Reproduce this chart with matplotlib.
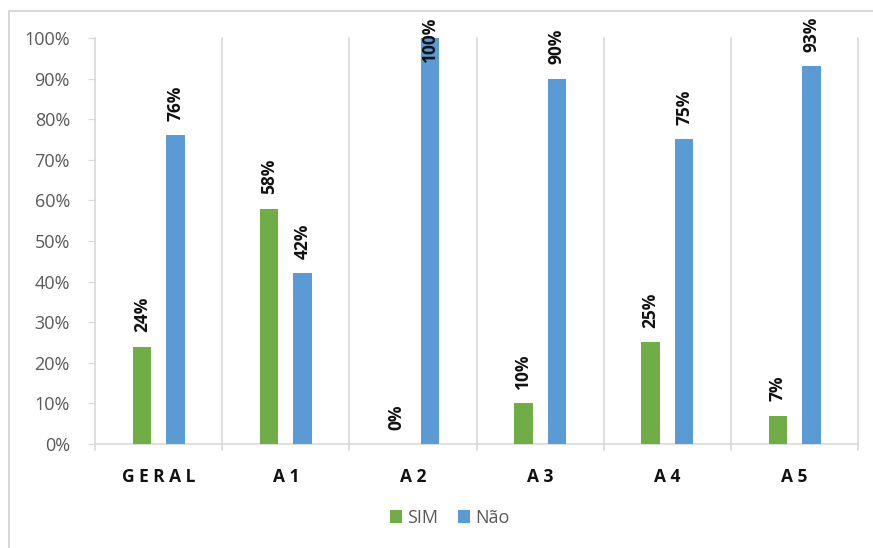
import matplotlib.pyplot as plt
import numpy as np
from matplotlib.patches import Rectangle

# categorias e percentuais
categorias = ['G E R A L', 'A 1', 'A 2', 'A 3', 'A 4', 'A 5']
sim = [24, 58, 0, 10, 25, 7]
nao = [76, 42, 100, 90, 75, 93]

verde = '#70ad47'
azul = '#5b9bd5'
cinza = '#d9d9d9'

plt.rcParams['font.family'] = ['Open Sans', 'DejaVu Sans']

fig = plt.figure(figsize=(8.73, 5.48), dpi=100)
ax = fig.add_axes([0.1088, 0.1898, 0.8742, 0.7409])

x = np.arange(len(categorias))
w = 0.145
off = 0.132
b1 = ax.bar(x - off, sim, w, color=verde, label='SIM', zorder=3)
b2 = ax.bar(x + off, nao, w, color=azul, label='Não', zorder=3)

# rótulos de valor, verticais acima das barras
for barras, vals in ((b1, sim), (b2, nao)):
    for b, v in zip(barras, vals):
        y = v + 3.5
        if v > 95:
            # sem espaço acima: o rótulo desce sobre a barra
            y = v - 6
        ax.text(b.get_x() + b.get_width() / 2, y, f'{v}%',
                rotation=90, ha='center', va='bottom', fontsize=12.5,
                fontweight='bold', color='#111111', zorder=4, clip_on=False)

ax.set_xlim(-0.5, len(categorias) - 0.5)
ax.set_ylim(0, 100)
ax.set_yticks(np.arange(0, 101, 10))
ax.set_yticklabels([f'{t}%' for t in range(0, 101, 10)], fontsize=13, color='#595959')

ax.set_xticks(x)
ax.set_xticklabels(categorias, fontsize=12.5, fontweight='bold', color='#111111')
ax.tick_params(axis='x', length=0, pad=17)
ax.tick_params(axis='y', length=5, color=cinza, pad=13)

# linhas verticais entre categorias
for sep in np.arange(-0.5, len(categorias), 1.0):
    ax.axvline(sep, color=cinza, lw=1.2, zorder=1, clip_on=False)
    ax.plot([sep, sep], [0, -1.5], color=cinza, lw=1.2, clip_on=False)

for s in ('top', 'right', 'left'):
    ax.spines[s].set_visible(False)
ax.spines['bottom'].set_color(cinza)
ax.spines['bottom'].set_linewidth(1.2)

leg = fig.legend(handles=[b1, b2], loc='center', bbox_to_anchor=(0.515, 0.055),
                 ncol=2, frameon=False, fontsize=13, handlelength=0.65,
                 handleheight=0.65, handletextpad=0.3, columnspacing=1.1)
for t in leg.get_texts():
    t.set_color('#595959')

# moldura externa
fig.patches.append(Rectangle((0.01, -0.01), 0.995, 0.99, transform=fig.transFigure,
                             fill=False, edgecolor='#d0d0d0', lw=1.2))

fig.savefig('out.png', dpi=100)
